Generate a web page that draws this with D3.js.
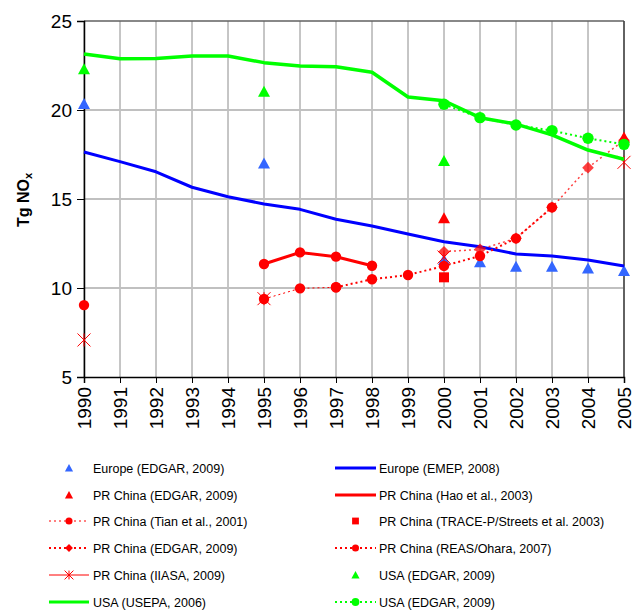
<!DOCTYPE html>
<html><head><meta charset="utf-8">
<script src="https://cdn.jsdelivr.net/npm/d3@7"></script>
<style>body{margin:0;background:#fff} text{font-family:"Liberation Sans",Arial,Helvetica,sans-serif}</style>
</head><body><svg id="c" width="635" height="610"></svg>
<script>
// ---- data ----
const years = [1990,1991,1992,1993,1994,1995,1996,1997,1998,1999,2000,2001,2002,2003,2004,2005];
const yTicks = [5,10,15,20,25];
const _ = null;
const europeEdgar   = [20.34,_,_,_,_,17.0,_,_,_,_,11.57,11.44,11.2,11.2,11.1,10.96];
const europeEmep    = [17.64,17.1,16.53,15.66,15.13,14.72,14.42,13.86,13.48,13.03,12.6,12.32,11.91,11.8,11.57,11.24];
const chinaEdgarTri = [_,_,_,_,_,_,_,_,_,_,13.92,_,_,_,_,18.45];
const chinaHao      = [_,_,_,_,_,11.35,12.0,11.76,11.25,_,_,_,_,_,_,_];
const chinaTian     = [9.04,_,_,_,_,9.38,9.98,10.04,_,_,_,_,_,_,_,_];
const chinaTrace    = [_,_,_,_,_,_,_,_,_,_,10.6,_,_,_,_,_];
const chinaEdgarDia = [_,_,_,_,_,_,_,_,_,_,12.04,12.17,12.79,14.53,16.76,18.3];
const chinaReas     = [_,_,_,_,_,_,_,10.04,10.49,10.73,11.24,11.8,12.79,14.53,_,_];
const chinaIiasa    = [7.08,_,_,_,_,9.4,_,_,_,_,11.74,_,_,_,_,17.06];
const usaEdgarTri   = [22.29,_,_,_,_,21.03,_,_,_,_,17.13,_,_,_,_,_];
const usaUsepa      = [23.15,22.88,22.9,23.03,23.03,22.66,22.47,22.43,22.12,20.73,20.52,19.57,19.21,18.6,17.75,17.23];
const usaEdgarLine  = [_,_,_,_,_,_,_,_,_,_,20.32,19.57,19.16,18.84,18.41,18.07];
const seriesNames = ["Europe (EDGAR, 2009)","Europe (EMEP, 2008)","PR China (EDGAR, 2009)","PR China (Hao et al., 2003)",
  "PR China (Tian et al., 2001)","PR China (TRACE-P/Streets et al. 2003)","PR China (EDGAR, 2009)","PR China (REAS/Ohara, 2007)",
  "PR China (IIASA, 2009)","USA (EDGAR, 2009)","USA (USEPA, 2006)","USA (EDGAR, 2009)"];

// ---- styles ----
const RED="#ff0000", GREEN="#00ff00", BLUE="#0000ff", LBLUE="#3366ff";
const series = [
  {v:europeEdgar,   c:LBLUE, m:"tri"},
  {v:europeEmep,    c:BLUE,  w:3},
  {v:chinaEdgarTri, c:RED,   m:"tri"},
  {v:chinaHao,      c:RED,   w:3, m:"circle", noLegMarker:true},
  {v:chinaTian,     c:RED,   w:1, dash:"2,3", m:"circle"},
  {v:chinaTrace,    c:RED,   m:"square"},
  {v:chinaEdgarDia, c:RED,   w:1.5, dash:"2,3", m:"diamond", op:0.75, legW:2},
  {v:chinaReas,     c:RED,   w:2, dash:"2,3", m:"circle"},
  {v:chinaIiasa,    c:RED,   w:1, m:"star"},
  {v:usaEdgarTri,   c:GREEN, m:"tri"},
  {v:usaUsepa,      c:GREEN, w:3.5, legW:3},
  {v:usaEdgarLine,  c:GREEN, w:2, dash:"2,3", m:"circle"}
];
series.forEach((s,i)=>s.name=seriesNames[i]);

const svg = d3.select("#c");
const x = d3.scaleLinear().domain([1990,2005]).range([84,624]);
const y = d3.scaleLinear().domain([5,25]).range([377,21]);

// grid
const g = svg.append("g");
g.selectAll(".vg").data(years).join("line")
  .attr("x1",d=>x(d)).attr("x2",d=>x(d)).attr("y1",y(25)).attr("y2",y(5))
  .attr("stroke","#8c8c8c").attr("stroke-width",1);
g.selectAll(".hg").data([10,15,20]).join("line")
  .attr("x1",x(1990)).attr("x2",x(2005)).attr("y1",d=>y(d)).attr("y2",d=>y(d))
  .attr("stroke","#c0c0c0").attr("stroke-width",2);
g.append("line").attr("x1",x(1990)).attr("x2",x(2005)).attr("y1",y(25)).attr("y2",y(25)).attr("stroke","#606060").attr("stroke-width",1.5);
g.append("line").attr("x1",x(2005)).attr("x2",x(2005)).attr("y1",y(25)).attr("y2",y(5)).attr("stroke","#404040").attr("stroke-width",1.5);

// axes
const yAxis = d3.axisLeft(y).tickValues(yTicks).tickSize(7).tickPadding(5);
const ya = svg.append("g").attr("transform",`translate(${x(1990)},0)`).call(yAxis);
ya.select(".domain").attr("stroke","#000").attr("stroke-width",1.5);
ya.selectAll("text").attr("font-size",19).attr("font-family","Liberation Sans, Arial, sans-serif").attr("fill","#000");
const xAxis = d3.axisBottom(x).tickValues(years).tickFormat(d3.format("d")).tickSize(6);
const xa = svg.append("g").attr("transform",`translate(0,${y(5)})`).call(xAxis);
xa.select(".domain").attr("stroke","#000").attr("stroke-width",1.5);
xa.selectAll("text").attr("font-size",19).attr("font-family","Liberation Sans, Arial, sans-serif").attr("fill","#000")
  .attr("transform","rotate(-90)").attr("text-anchor","end").attr("x",-10).attr("y",0).attr("dy","0.36em");

// y title
const t = svg.append("text").attr("transform","translate(29,200) rotate(-90)").attr("text-anchor","middle")
  .attr("font-size",16).attr("font-weight","bold");
t.append("tspan").text("Tg NO");
t.append("tspan").text("x").attr("font-size",11).attr("dy",3);

// markers
function marker(sel, type, cx, cy, c, small){
  const k = small ? 0.68 : 1;
  if(type==="tri"){
    const h=10*k, w=12*k;
    sel.append("path").attr("d",`M${cx},${cy-h/2-1*k}L${cx+w/2},${cy+h/2}L${cx-w/2},${cy+h/2}Z`).attr("fill",c);
  } else if(type==="circle"){
    sel.append("circle").attr("cx",cx).attr("cy",cy).attr("r",(c===GREEN?5.7:5.2)*k).attr("fill",c);
  } else if(type==="square"){
    const s=10*k; sel.append("rect").attr("x",cx-s/2).attr("y",cy-s/2).attr("width",s).attr("height",s).attr("fill",c);
  } else if(type==="diamond"){
    const r=5.8*k; sel.append("path").attr("d",`M${cx},${cy-r}L${cx+r},${cy}L${cx},${cy+r}L${cx-r},${cy}Z`).attr("fill",c);
  } else if(type==="star"){
    const r=6.5*k;
    sel.append("path").attr("d",`M${cx-r},${cy-r}L${cx+r},${cy+r}M${cx-r},${cy+r}L${cx+r},${cy-r}M${cx},${cy-r}L${cx},${cy+r}`)
      .attr("stroke",c).attr("stroke-width",1).attr("fill","none");
  }
}

const plot = svg.append("g");
series.forEach(s=>{
  const pts = years.map((yr,i)=>({yr, v:s.v[i]}));
  const sg = plot.append("g").attr("opacity", s.op||1);
  if(s.w){
    const line = d3.line().defined(d=>d.v!=null).x(d=>x(d.yr)).y(d=>y(d.v));
    sg.append("path").datum(pts).attr("d",line).attr("fill","none").attr("stroke",s.c)
      .attr("stroke-width",s.w).attr("stroke-dasharray",s.dash||null).attr("stroke-linejoin","round");
  }
  if(s.m){
    pts.filter(d=>d.v!=null).forEach(d=>marker(sg, s.m, x(d.yr), y(d.v), s.c, false));
  }
});

// legend
const rowsY = [468,495,521,548,575,602];
const cols = [{x1:49,x2:89,tx:93},{x1:335,x2:376,tx:379}];
const lg = svg.append("g");
series.forEach((s,i)=>{
  const col = cols[i%2], ry = rowsY[Math.floor(i/2)];
  const cx=(col.x1+col.x2)/2;
  if(s.w){
    lg.append("line").attr("x1",col.x1).attr("x2",col.x2).attr("y1",ry).attr("y2",ry)
      .attr("stroke",s.c).attr("stroke-width",s.legW||s.w).attr("stroke-dasharray",s.dash||null);
  }
  if(s.m && !s.noLegMarker) marker(lg, s.m, cx, ry, s.c, true);
  lg.append("text").attr("x",col.tx).attr("y",ry).attr("dy","0.36em").attr("font-size",12.5).text(s.name);
});
</script></body></html>
